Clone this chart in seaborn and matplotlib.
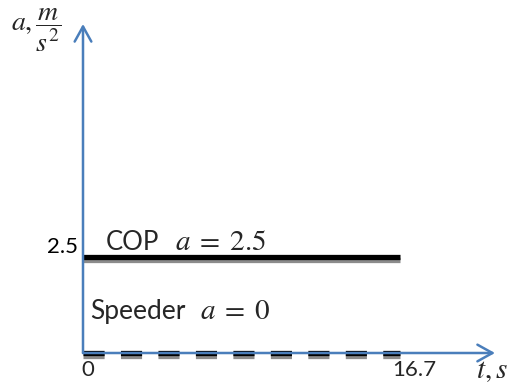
import matplotlib
matplotlib.use("Agg")
import matplotlib.pyplot as plt
import matplotlib.patheffects as pe
import seaborn as sns
import pandas as pd

t = [0, 16.7]
cop_a = [2.5, 2.5]
speeder_a = [0, 0]
x_ticks = [0, 16.7]
y_ticks = [2.5]

sns.set_theme(style="white")
plt.rcParams['font.family'] = ['Lato', 'DejaVu Sans']
plt.rcParams['mathtext.fontset'] = 'stix'

df = pd.DataFrame({"t": t, "cop": cop_a, "speeder": speeder_a})

fig = plt.figure(figsize=(5.19, 3.89), dpi=100)
ax = fig.add_axes([0, 0, 1, 1])
px_x = 19.0
px_y = 38.4
ax.set_xlim(-83 / px_x, (519 - 83) / px_x)
ax.set_ylim((353 - 389) / px_y, 353 / px_y)
ax.axis("off")

blue = "#4a7ebb"
# axes with arrows
ax.annotate("", xy=((495 - 83) / px_x, 0), xytext=(0, 0),
            arrowprops=dict(arrowstyle="->,head_length=0.9,head_width=0.5", color=blue, lw=1.8,
                            shrinkA=0, shrinkB=0))
ax.annotate("", xy=(0, (353 - 24) / px_y), xytext=(0, 0),
            arrowprops=dict(arrowstyle="->,head_length=0.9,head_width=0.5", color=blue, lw=1.8,
                            shrinkA=0, shrinkB=0))

shadow = [pe.SimpleLineShadow(offset=(0, -2.2), shadow_color="gray", alpha=0.9), pe.Normal()]
sns.lineplot(data=df, x="t", y="cop", ax=ax, color="black", lw=3.8,
             path_effects=shadow, solid_capstyle="butt")
sns.lineplot(data=df, x="t", y="speeder", ax=ax, color="black", lw=3.8,
             dashes=(4.0, 3.1), path_effects=shadow, dash_capstyle="butt")
ax.set_xlabel("")
ax.set_ylabel("")

fs = 16
ax.text(-0.25, y_ticks[0], "2.5", ha="right", va="bottom", fontsize=fs, color="black")
ax.text(x_ticks[0] + 0.25, -0.17, "0", ha="center", va="top", fontsize=fs)
ax.text(x_ticks[1] + 0.75, -0.17, "16.7", ha="center", va="top", fontsize=fs)
ax.text((492 - 83) / px_x, -0.13, r"$t,s$", ha="center", va="top", fontsize=21)
ax.text(-1.15, (353 - 30) / px_y, r"$a,\dfrac{m}{s^2}$", ha="right", va="center", fontsize=20)
ax.text(1.2, 2.55, "COP", ha="left", va="bottom", fontsize=18.5)
ax.text((175 - 83) / px_x, 2.55, r"$a\;=\;2.5$", ha="left", va="bottom", fontsize=21)
ax.text(0.4, (353 - 311) / px_y, "Speeder", ha="left", va="center", fontsize=19)
ax.text((200 - 83) / px_x, (353 - 311) / px_y, r"$a\;=\;0$", ha="left", va="center", fontsize=21)

fig.savefig("out.png", dpi=100)
